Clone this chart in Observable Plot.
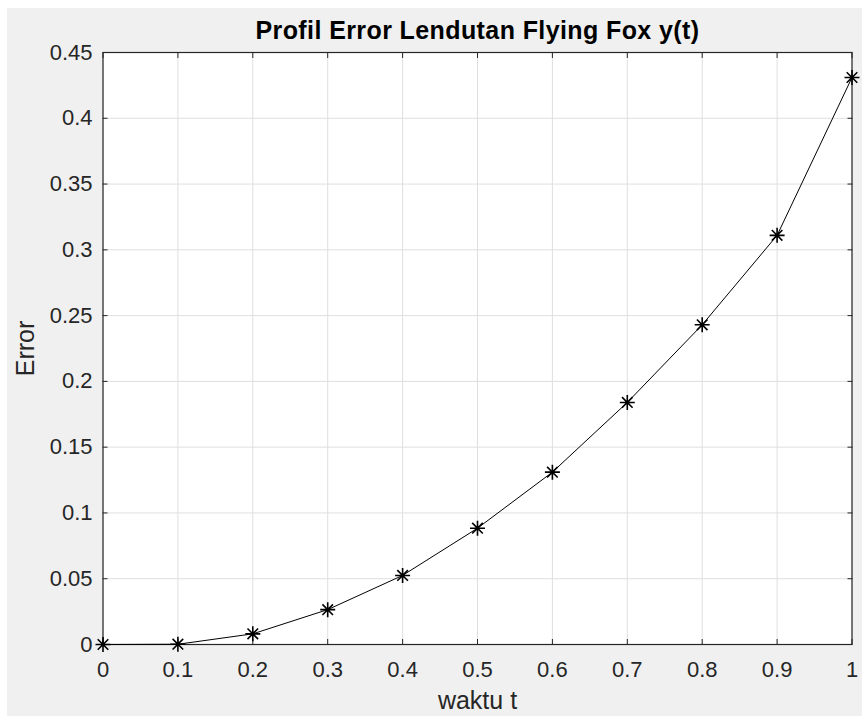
<!DOCTYPE html>
<html><head><meta charset="utf-8">
<script src="https://cdn.jsdelivr.net/npm/d3@7"></script>
<script src="https://cdn.jsdelivr.net/npm/@observablehq/plot@0.6"></script>
<style>
html,body{margin:0;padding:0;background:#fff;}
#fig{position:absolute;left:7px;top:8px;width:855px;height:708px;background:#f0f0f0;overflow:hidden;font-family:"Liberation Sans",Arial,sans-serif;}
#title{position:relative;width:941px;height:30px;box-sizing:border-box;padding-top:10px;font:bold 25px "Liberation Sans",Arial,sans-serif;line-height:25px;letter-spacing:0.4px;text-align:center;color:#000;white-space:nowrap;}
#chart svg{display:block;}
</style>
</head><body>
<div id="fig"><div id="title"></div><div id="chart"></div></div>
<script>
const titleText = "Profil Error Lendutan Flying Fox y(t)";
const xLabel = "waktu t";
const yLabel = "Error";
const tValues = [0, 0.1, 0.2, 0.3, 0.4, 0.5, 0.6, 0.7, 0.8, 0.9, 1.0];
const errValues = [0, 0.0002, 0.0081, 0.0265, 0.0525, 0.0884, 0.131, 0.184, 0.243, 0.311, 0.431];
const xTicks = [0, 0.1, 0.2, 0.3, 0.4, 0.5, 0.6, 0.7, 0.8, 0.9, 1];
const yTicks = [0, 0.05, 0.1, 0.15, 0.2, 0.25, 0.3, 0.35, 0.4, 0.45];

const data = tValues.map((t, i) => ({t, e: errValues[i]}));
document.getElementById("title").textContent = titleText;

const asterisk = {
  draw(ctx, size) {
    const r = Math.sqrt(size / Math.PI);
    const d = r * Math.SQRT1_2;
    ctx.moveTo(-r, 0); ctx.lineTo(r, 0);
    ctx.moveTo(0, -r); ctx.lineTo(0, r);
    ctx.moveTo(-d, -d); ctx.lineTo(d, d);
    ctx.moveTo(-d, d); ctx.lineTo(d, -d);
  }
};
const fmt = d3.format("~g");
const axisColor = "#262626";
const gridColor = "#dfdfdf";

const chart = Plot.plot({
  width: 855, height: 678,
  marginTop: 14, marginBottom: 72, marginLeft: 95.5, marginRight: 10.5,
  style: {background: "transparent", fontFamily: "'Liberation Sans', Arial, sans-serif", fontSize: "22px", color: axisColor, overflow: "visible"},
  x: {domain: [0, 1]},
  y: {domain: [0, 0.45]},
  marks: [
    Plot.frame({fill: "white", stroke: null}),
    Plot.gridX(xTicks, {stroke: gridColor, strokeOpacity: 1}),
    Plot.gridY(yTicks, {stroke: gridColor, strokeOpacity: 1}),
    Plot.axisX(xTicks, {anchor: "bottom", tickSize: -5, tickPadding: 22, tickFormat: fmt, label: null, stroke: axisColor, fill: axisColor}),
    Plot.axisX(xTicks, {anchor: "top", tickSize: -5, tickFormat: () => "", label: null, stroke: axisColor}),
    Plot.axisY(yTicks, {anchor: "left", tickSize: -5, tickPadding: 15.5, tickFormat: fmt, label: null, stroke: axisColor, fill: axisColor}),
    Plot.axisY(yTicks, {anchor: "right", tickSize: -5, tickFormat: () => "", label: null, stroke: axisColor}),
    Plot.frame({stroke: axisColor, strokeWidth: 1.2}),
    Plot.line(data, {x: "t", y: "e", stroke: "black", strokeWidth: 1}),
    Plot.dot(data, {x: "t", y: "e", symbol: asterisk, r: 7.5, fill: "none", stroke: "black", strokeWidth: 1.6}),
    Plot.text([xLabel], {frameAnchor: "bottom", dy: 56.5, lineAnchor: "middle", fontSize: 25, fill: axisColor}),
    Plot.text([yLabel], {frameAnchor: "left", dx: -77.5, rotate: -90, textAnchor: "middle", lineAnchor: "middle", fontSize: 25, fill: axisColor})
  ]
});
document.getElementById("chart").appendChild(chart);
</script>
</body></html>
